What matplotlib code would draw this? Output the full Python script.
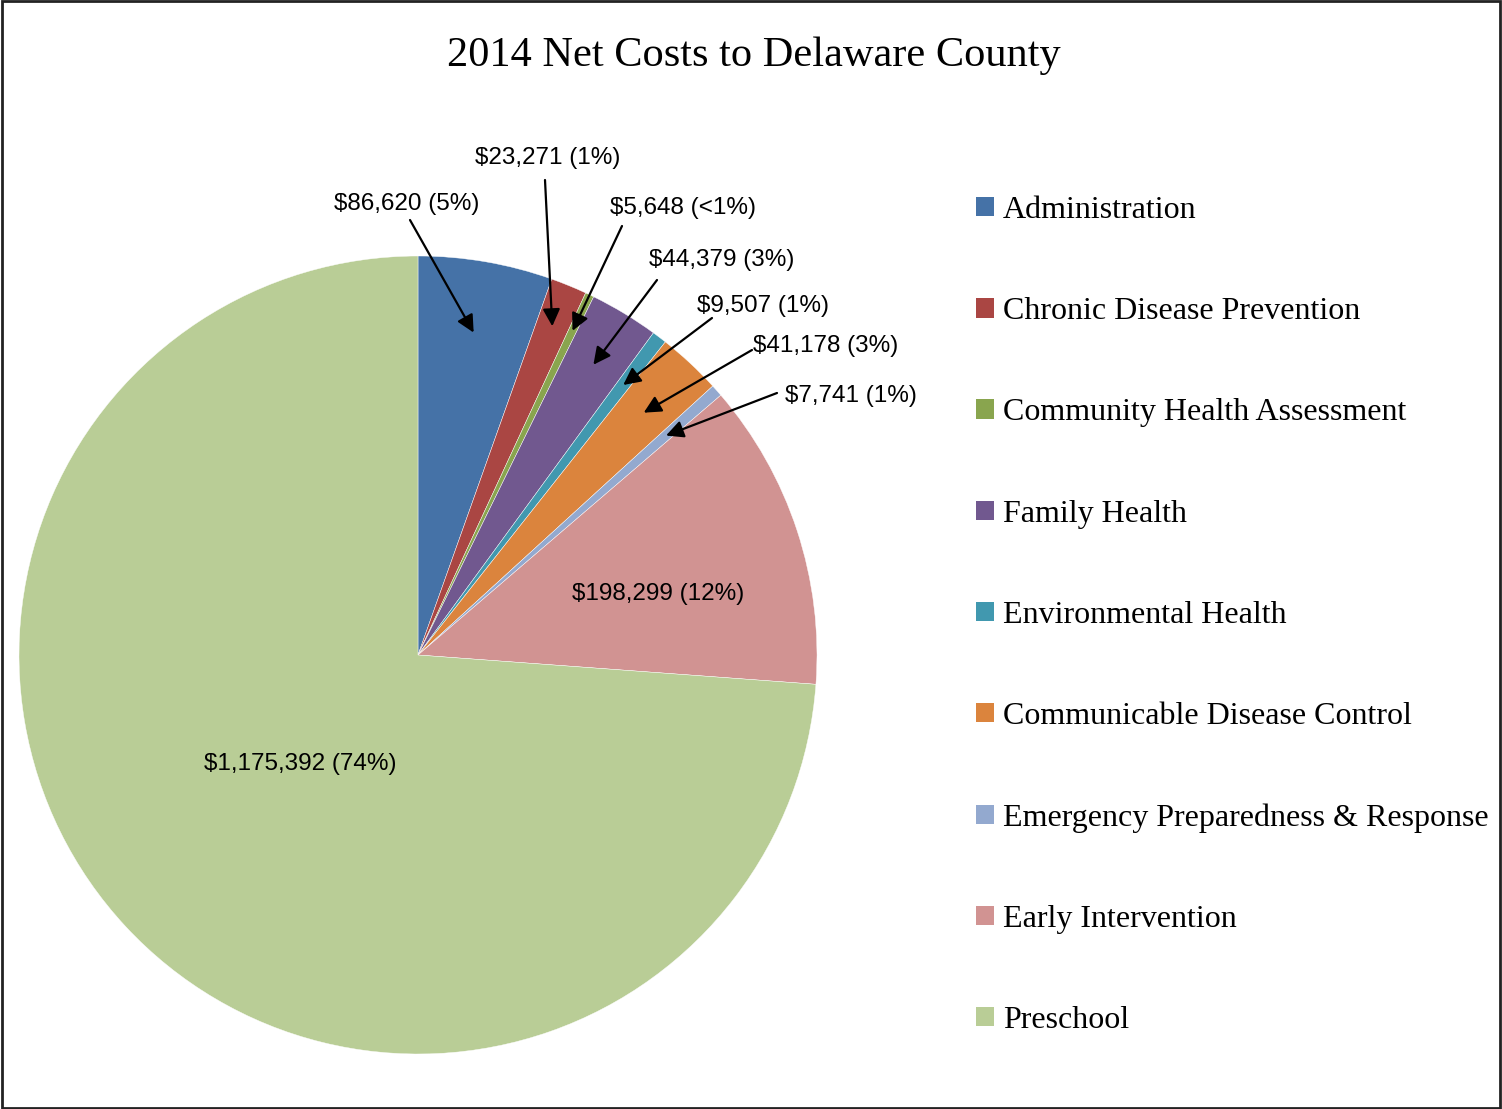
import matplotlib
matplotlib.use('Agg')
import matplotlib.pyplot as plt
import matplotlib.patches as mpatches
import numpy as np

# datos del grafico
categorias = ['Administration', 'Chronic Disease Prevention', 'Community Health Assessment',
              'Family Health', 'Environmental Health', 'Communicable Disease Control',
              'Emergency Preparedness & Response', 'Early Intervention', 'Preschool']
costos = [86620, 23271, 5648, 44379, 9507, 41178, 7741, 198299, 1175392]
porcentajes = ['5%', '1%', '<1%', '3%', '1%', '3%', '1%', '12%', '74%']
colores = ['#4572A7', '#AA4643', '#89A54E', '#71588F', '#4198AF',
           '#DB843D', '#93A9CF', '#D19392', '#B9CD96']

W, H = 1502, 1109
fig = plt.figure(figsize=(W / 100, H / 100), dpi=100)
ax = fig.add_axes([0, 0, 1, 1])

# pastel en coordenadas de pixel (y hacia arriba)
cx, cy, R = 418, H - 655, 399
wedges, _ = ax.pie(costos, colors=colores, startangle=90, counterclock=False,
                   center=(cx, cy), radius=R,
                   wedgeprops=dict(edgecolor='white', linewidth=0.3))
ax.set_xlim(0, W)
ax.set_ylim(0, H)
ax.set_aspect('equal')
ax.axis('off')

etiquetas = ['${:,} ({})'.format(v, p) for v, p in zip(costos, porcentajes)]

# angulo medio de cada porcion (grados, sentido horario desde arriba)
total = sum(costos)
acum = np.cumsum([0] + costos)
medios = [(acum[i] + costos[i] / 2) / total * 360 for i in range(len(costos))]

def punto(ang, r):
    a = np.radians(ang)
    return cx + r * np.sin(a), cy + r * np.cos(a)

fuente_etq = dict(family='Liberation Sans', fontsize=17.5, color='black')

# posiciones de texto de las etiquetas (pixeles, y hacia abajo)
texto_pos = [(407, 204), (548, 158), (683, 208), (722, 260), (763, 306), (826, 346), (851, 396),
             (658, 594), (300, 764)]
# origen de cada flecha y radio de la punta
cola_pos = [(410, 220), (545, 180), (622, 226), (657, 280), (712, 318), (752, 350), (777, 393)]
radio_punta = [0.82, 0.89, 0.90, 0.85, 0.85, 0.83, 0.83]

for i in range(len(costos)):
    tx, ty = texto_pos[i]
    ax.text(tx, H - ty, etiquetas[i], ha='center', va='center', **fuente_etq)

for i in range(len(cola_pos)):
    px, py = cola_pos[i]
    ax.annotate('', xy=punto(medios[i], radio_punta[i] * R), xytext=(px, H - py),
                arrowprops=dict(arrowstyle='-|>', color='black', lw=1.6,
                                mutation_scale=26, shrinkA=0, shrinkB=0))

# titulo
fig.text(754 / W, 1 - 56 / H, '2014 Net Costs to Delaware County', ha='center', va='center',
         family='Liberation Serif', fontsize=30.5)

# leyenda
handles = [mpatches.Patch(facecolor=c, edgecolor='none') for c in colores]
leg = fig.legend(handles, categorias, loc='upper left', bbox_to_anchor=(976 / W, 1 - 196 / H),
                 frameon=False, prop=dict(family='Liberation Serif', size=23),
                 handlelength=0.55, handleheight=0.55, handletextpad=0.3,
                 labelspacing=2.26, borderpad=0, borderaxespad=0)

# marco exterior
fig.patches.append(mpatches.Rectangle((0.001, 0.001), 0.998, 0.998, transform=fig.transFigure,
                                      fill=False, edgecolor='#222222', linewidth=2))

fig.savefig('out.png', dpi=100)
